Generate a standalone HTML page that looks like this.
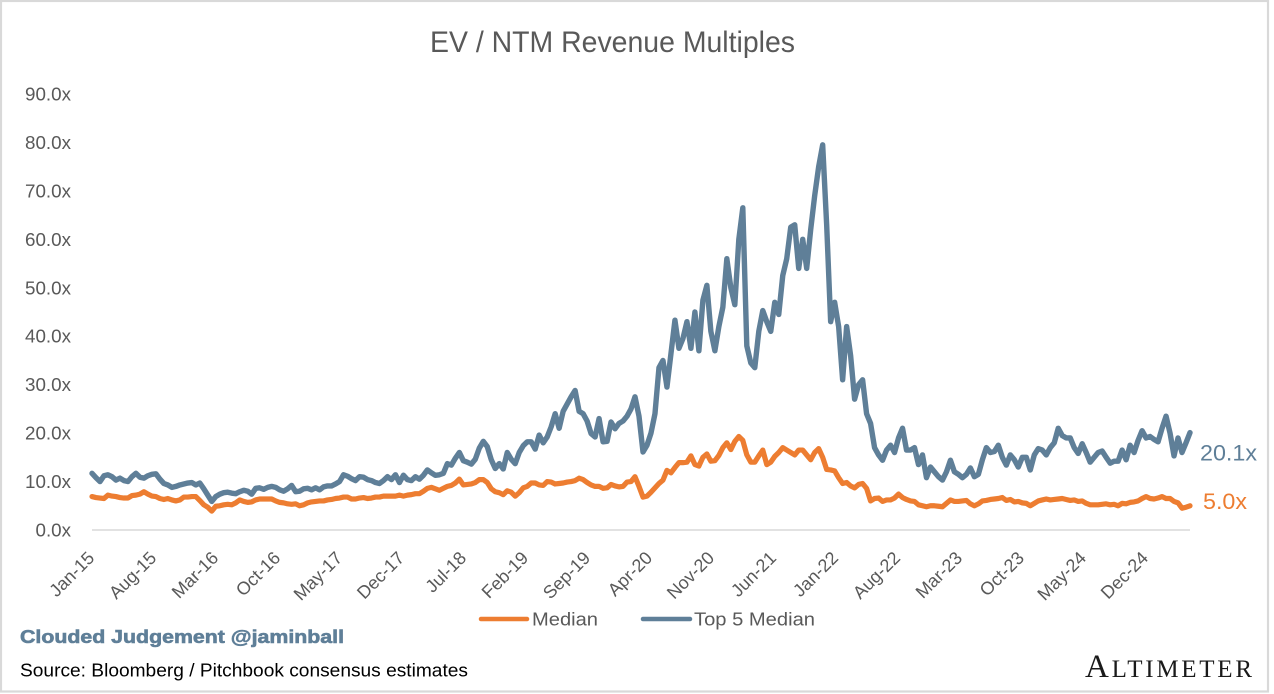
<!DOCTYPE html>
<html lang="en">
<head>
<meta charset="utf-8">
<title>EV / NTM Revenue Multiples</title>
<style>
html,body{margin:0;padding:0;background:#fff;width:1274px;height:694px;overflow:hidden}
svg{display:block}
text{font-family:"Liberation Sans",Arial,sans-serif}
</style>
</head>
<body>
<svg id="chart" width="1274" height="694" viewBox="0 0 1274 694" xmlns="http://www.w3.org/2000/svg">
<rect x="1" y="1" width="1267" height="690.5" fill="#fff" stroke="#d9d9d9" stroke-width="2.2"/>
<text x="430" y="52" font-size="29.5" fill="#595959" textLength="365" lengthAdjust="spacingAndGlyphs">EV / NTM Revenue Multiples</text>
<g id="y-axis"></g>
<g id="x-axis"></g>
<g id="series"></g>
<g id="end-labels"></g>
<g>
<line x1="481" y1="619" x2="527" y2="619" stroke="#ed7d31" stroke-width="4.5" stroke-linecap="round"/>
<text x="532" y="625.5" font-size="18.5" fill="#595959" textLength="66" lengthAdjust="spacingAndGlyphs">Median</text>
<line x1="643" y1="619" x2="690" y2="619" stroke="#5f7f98" stroke-width="4.5" stroke-linecap="round"/>
<text x="694" y="625.5" font-size="18.5" fill="#595959" textLength="121" lengthAdjust="spacingAndGlyphs">Top 5 Median</text>
</g>
<text x="20" y="643" font-size="18" font-weight="700" fill="#5f7f98" stroke="#5f7f98" stroke-width="0.6" textLength="324" lengthAdjust="spacingAndGlyphs">Clouded Judgement @jaminball</text>
<text x="20" y="676.5" font-size="18" fill="#000" textLength="448" lengthAdjust="spacingAndGlyphs">Source: Bloomberg / Pitchbook consensus estimates</text>
<text x="1085" y="677" fill="#1a1a1a" textLength="167" lengthAdjust="spacing" style="font-family:'Liberation Serif',serif"><tspan font-size="33">A</tspan><tspan font-size="25">LTIMETER</tspan></text>
</svg>
<script>
const yTickValues = [0, 10, 20, 30, 40, 50, 60, 70, 80, 90];
const dateLabels = ["Jan-15","Aug-15","Mar-16","Oct-16","May-17","Dec-17","Jul-18","Feb-19","Sep-19","Apr-20","Nov-20","Jun-21","Jan-22","Aug-22","Mar-23","Oct-23","May-24","Dec-24"];
const monthsBetweenLabels = 7;
const totalMonths = 124;
const top5Median = [
11.7,10.8,10.0,11.2,11.4,11.0,10.3,10.7,10.2,10.0,11.0,11.7,10.9,10.7,11.2,11.5,11.6,10.5,9.6,9.3,
8.8,9.0,9.3,9.5,9.7,9.8,9.3,9.7,8.5,7.2,5.9,6.9,7.4,7.7,7.8,7.6,7.5,7.9,8.2,8.0,
7.4,8.6,8.7,8.4,8.8,9.0,8.8,8.3,8.0,8.5,9.2,7.9,8.0,8.5,8.6,8.3,8.7,8.3,8.9,9.1,
9.1,9.5,10.0,11.4,11.1,10.6,10.2,11.0,10.9,10.4,10.2,9.8,9.6,10.2,11.0,10.4,11.4,9.8,11.3,10.4,
10.2,11.0,10.5,11.3,12.4,11.8,11.3,11.4,11.7,13.7,13.4,14.8,16.0,14.3,14.0,13.6,14.6,16.9,18.3,17.2,
14.5,12.7,13.7,12.6,16.0,14.6,13.7,16.0,17.4,18.2,18.2,16.7,19.6,18.0,19.2,21.3,24.0,21.0,24.5,26.0,
27.5,28.8,24.5,24.0,22.5,19.9,19.2,23.0,18.2,18.3,22.3,20.9,22.0,22.5,23.5,25.0,27.5,23.5,16.1,17.5,
20.0,24.0,33.5,35.0,29.5,36.4,43.3,37.5,39.5,43.0,37.5,45.0,37.0,47.4,50.5,41.0,37.0,42.0,46.0,56.0,
50.0,46.5,60.0,66.5,38.0,34.5,33.5,41.0,45.3,43.0,41.0,47.0,44.5,52.5,56.0,62.5,63.0,54.0,60.0,54.0,
62.0,69.0,75.0,79.5,63.0,43.0,47.0,42.0,31.0,42.0,36.0,27.0,30.0,31.0,24.0,22.0,17.0,15.5,14.4,16.5,
17.5,16.0,19.0,21.0,16.5,16.5,17.0,13.5,15.5,10.8,13.0,12.0,11.0,10.3,12.0,14.4,12.0,11.5,10.8,11.5,
12.8,11.0,11.5,14.5,17.0,16.0,16.2,17.5,15.0,13.4,15.5,14.5,13.0,15.0,15.0,12.4,15.5,16.8,16.5,15.5,
17.0,18.0,21.0,19.5,19.0,19.0,17.0,15.8,17.8,16.0,14.0,15.0,16.0,16.3,15.0,13.8,14.2,14.2,16.5,14.5,
17.5,16.0,18.5,20.5,19.0,19.3,18.7,18.2,21.0,23.5,20.0,15.3,19.0,16.0,18.0,20.1
];
const median = [
6.9,6.7,6.6,6.5,7.2,7.0,6.9,6.7,6.6,6.6,7.1,7.2,7.4,7.9,7.4,7.0,6.9,6.5,6.3,6.5,
6.2,6.0,6.2,6.8,6.8,6.9,6.9,6.1,5.2,4.7,3.9,4.9,5.0,5.2,5.3,5.2,5.6,6.2,5.9,5.7,
5.8,6.2,6.4,6.4,6.4,6.4,6.0,5.7,5.6,5.4,5.3,5.4,5.0,5.2,5.6,5.8,5.9,6.0,6.0,6.2,
6.3,6.5,6.6,6.8,6.8,6.4,6.4,6.6,6.7,6.5,6.6,6.8,6.8,7.0,7.0,7.0,7.0,7.2,7.0,7.2,
7.3,7.5,7.5,8.0,8.6,8.8,8.5,8.2,8.6,9.0,9.2,9.7,10.5,9.3,9.4,9.5,9.8,10.4,10.4,9.8,
8.5,7.9,7.7,7.3,8.1,7.8,7.0,7.7,8.7,9.0,9.7,9.7,9.3,9.2,10.0,9.9,9.5,9.6,9.7,9.9,
10.0,10.2,10.7,10.4,9.8,9.3,9.0,9.0,8.6,8.7,9.4,9.1,8.9,9.0,9.9,10.0,11.0,9.0,6.8,7.0,
7.8,8.7,9.6,10.3,12.3,11.8,12.9,13.9,13.9,14.0,15.3,13.5,13.2,15.0,15.7,14.2,14.3,15.4,17.0,18.0,
16.6,18.3,19.3,18.5,15.5,14.0,14.0,15.3,16.5,13.5,14.0,15.2,16.0,17.0,16.5,16.0,15.5,16.5,16.5,15.5,
14.5,16.0,16.8,15.0,12.5,12.4,12.2,10.8,9.6,9.8,9.1,8.7,9.4,9.6,8.6,6.0,6.5,6.6,5.9,6.2,
6.2,6.6,7.4,6.7,6.3,6.0,5.9,5.2,5.0,4.8,5.0,5.0,4.9,4.8,5.5,6.2,5.9,5.9,6.0,6.1,
5.4,5.0,5.4,6.0,6.1,6.3,6.4,6.5,6.7,6.1,6.3,5.8,5.9,5.6,5.5,5.0,5.5,6.0,6.2,6.4,
6.2,6.3,6.4,6.5,6.3,6.1,6.2,5.9,6.0,5.5,5.2,5.2,5.2,5.3,5.4,5.2,5.3,5.0,5.5,5.4,
5.7,5.8,6.0,6.5,6.9,6.5,6.4,6.6,6.9,6.5,6.5,5.9,5.6,4.5,4.7,5.0
];
const NS = "http://www.w3.org/2000/svg";
const plotLeft = 92, plotRight = 1190, plotBottom = 530, plotTop = 94, yMax = 90;
function yScale(v){ return plotBottom - v / yMax * (plotBottom - plotTop); }
function xByIndex(i, n){ return plotLeft + i * (plotRight - plotLeft) / (n - 1); }
function xByMonth(m){ return plotLeft + m * (plotRight - plotLeft) / totalMonths; }
function make(tag, attrs, parent, txt){
  const el = document.createElementNS(NS, tag);
  for (const k in attrs) el.setAttribute(k, attrs[k]);
  if (txt !== undefined) el.textContent = txt;
  parent.appendChild(el);
  return el;
}
const yAxis = document.getElementById("y-axis");
yTickValues.forEach(function(v){
  const t = make("text", {x: 71, y: yScale(v) + 6.5, "text-anchor": "end", "font-size": 18.8, fill: "#595959"}, yAxis, v.toFixed(1) + "x");
  
  
});
const xAxis = document.getElementById("x-axis");
const baseline = make("line", {x1: plotLeft, x2: plotRight, y1: plotBottom, y2: plotBottom, stroke: "#d9d9d9", "stroke-width": 1.6}, xAxis);


dateLabels.forEach(function(label, k){
  const px = xByMonth(k * monthsBetweenLabels) + 3.5;
  const t = make("text", {x: px, y: 559, "text-anchor": "end", "font-size": 18, fill: "#595959", transform: "rotate(-45 " + px + " 559)"}, xAxis, label);
  
  
});
const seriesGroup = document.getElementById("series");
function linePath(values){
  return values.map(function(v, i){
    return (i ? "L" : "M") + xByIndex(i, values.length).toFixed(2) + " " + yScale(v).toFixed(2);
  }).join("");
}
const top5Line = make("path", {d: linePath(top5Median), fill: "none", stroke: "#5f7f98", "stroke-width": 5.4, "stroke-linejoin": "round", "stroke-linecap": "round"}, seriesGroup);


const medianLine = make("path", {d: linePath(median), fill: "none", stroke: "#ed7d31", "stroke-width": 5.2, "stroke-linejoin": "round", "stroke-linecap": "round"}, seriesGroup);


const endLabels = document.getElementById("end-labels");
const top5Last = top5Median[top5Median.length - 1];
const medianLast = median[median.length - 1];
const top5End = make("text", {x: 1200, y: yScale(top5Last) + 28, "font-size": 22, fill: "#5f7f98", textLength: 57, lengthAdjust: "spacingAndGlyphs"}, endLabels, top5Last.toFixed(1) + "x");


const medianEnd = make("text", {x: 1203, y: yScale(medianLast) + 3, "font-size": 22, fill: "#ed7d31", textLength: 44, lengthAdjust: "spacingAndGlyphs"}, endLabels, medianLast.toFixed(1) + "x");


</script>
</body>
</html>
